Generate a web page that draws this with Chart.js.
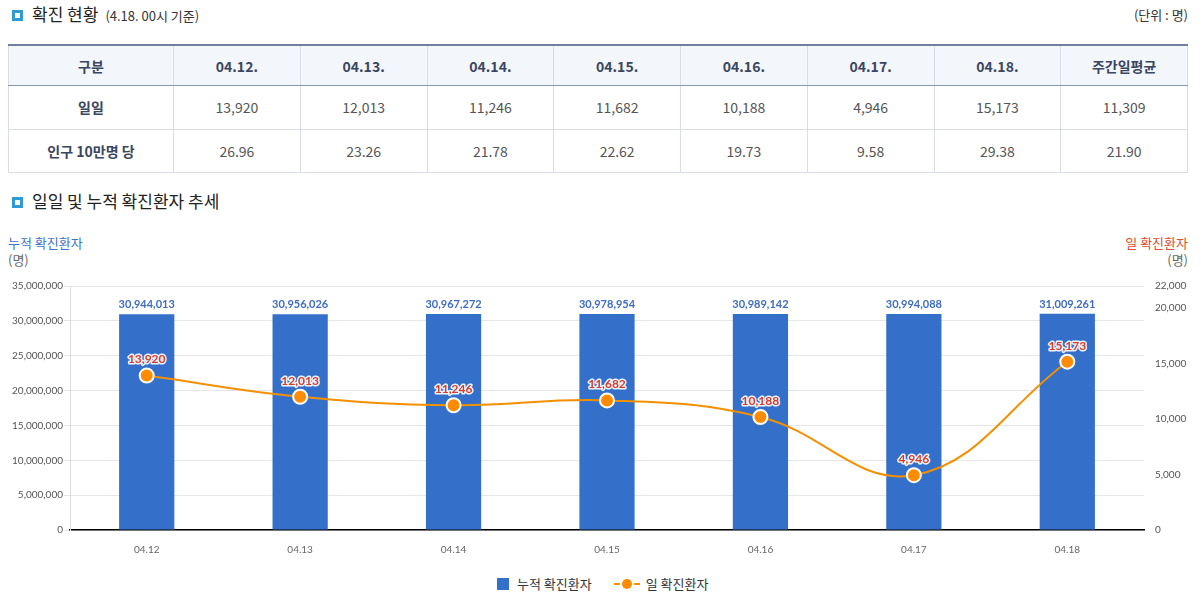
<!DOCTYPE html>
<html>
<head>
<meta charset="utf-8">
<title>확진 현황</title>
<script src="https://cdn.jsdelivr.net/npm/chart.js@4.4.0/dist/chart.umd.min.js"></script>
<style>
  body { margin: 0; width: 1201px; height: 599px; background: #fff; position: relative; overflow: hidden;
         font-family: "Noto Sans CJK KR", "Noto Sans", sans-serif; color: #333; }
  .abs { position: absolute; }
  .tit { font-size: 17px; color: #222; line-height: 20px; }
  .tit .ico { display: inline-block; width: 5px; height: 5px; border: 3px solid #2f9bd3; margin: 0 9px 2px 4px; vertical-align: middle; }
  .tit small { font-size: 13px; color: #333; margin-left: 7px; }
  table { border-collapse: collapse; width: 1180px; table-layout: fixed; font-size: 14px; }
  th, td { border: 1px solid #d9dde5; text-align: center; color: #555; padding: 0; }
  tr:first-child th { background: #f3f6fb; border-top: 2px solid #6f7f9c; border-bottom: 1px solid #8694ad; height: 39px; color: #3b4660; font-weight: bold; }
  td { height: 42.5px; }
  td.h { font-weight: bold; color: #3b4660; }
  #legend { font-size: 13px; color: #333; display: flex; align-items: center; }
  #legend span { display: inline-block; }
</style>
</head>
<body>
  <div class="abs tit" style="left:8px;top:4px"><span class="ico"></span>확진 현황<small>(4.18. 00시 기준)</small></div>
  <div class="abs" style="right:13px;top:5px;font-size:13px;">(단위 : 명)</div>
  <div class="abs" style="left:8px;top:44px">
    <table id="tbl"></table>
  </div>
  <div class="abs tit" style="left:8px;top:191px"><span class="ico"></span>일일 및 누적 확진환자 추세</div>
  <div class="abs" style="left:8px;top:234px;font-size:13px;line-height:17px;"><span style="color:#3d73c8">누적 확진환자</span><br><span style="color:#666">(명)</span></div>
  <div class="abs" style="right:13px;top:234px;font-size:13px;line-height:17px;text-align:right;"><span style="color:#dd4a2c">일 확진환자</span><br><span style="color:#666">(명)</span></div>

  <div class="abs" style="left:0;top:265px;width:1201px;height:300px;">
    <canvas id="myChart"></canvas>
  </div>
  <div class="abs" id="legend" style="left:497px;top:574px;">
    <span style="width:12px;height:12px;background:#3470c9;margin-right:8px;"></span>누적 확진환자
    <span style="margin-left:22px;margin-right:6px;position:relative;width:26px;height:12px;">
      <span style="position:absolute;left:0;top:5px;width:6px;height:2px;background:#f39000"></span>
      <span style="position:absolute;left:8px;top:1px;width:10px;height:10px;border-radius:50%;background:#ff8c00"></span>
      <span style="position:absolute;left:20px;top:5px;width:6px;height:2px;background:#f39000"></span>
    </span>일 확진환자
  </div>

<script>
  // table data
  var tableDates = ['04.12.', '04.13.', '04.14.', '04.15.', '04.16.', '04.17.', '04.18.'];
  var dailyCases = [13920, 12013, 11246, 11682, 10188, 4946, 15173];
  var dailyAvg = 11309;
  var per100k = ['26.96', '23.26', '21.78', '22.62', '19.73', '9.58', '29.38'];
  var per100kAvg = '21.90';

  // chart data
  var labels = ['04.12', '04.13', '04.14', '04.15', '04.16', '04.17', '04.18'];
  var cumulative = [30944013, 30956026, 30967272, 30978954, 30989142, 30994088, 31009261];
  var daily = [13920, 12013, 11246, 11682, 10188, 4946, 15173];
  var leftTicks = [0, 5000000, 10000000, 15000000, 20000000, 25000000, 30000000, 35000000];
  var rightTicks = [0, 5000, 10000, 15000, 20000, 22000];

  function fmt(n) { return Number(n).toLocaleString('en-US'); }

  var html = '<colgroup><col style="width:165px">';
  for (var i = 0; i < 8; i++) html += '<col>';
  html += '</colgroup><tr><th>구분</th>';
  tableDates.forEach(function (d) { html += '<th>' + d + '</th>'; });
  html += '<th>주간일평균</th></tr><tr><td class="h">일일</td>';
  dailyCases.forEach(function (v) { html += '<td>' + fmt(v) + '</td>'; });
  html += '<td>' + fmt(dailyAvg) + '</td></tr><tr><td class="h">인구 10만명 당</td>';
  per100k.forEach(function (v) { html += '<td>' + v + '</td>'; });
  html += '<td>' + per100kAvg + '</td></tr>';
  document.getElementById('tbl').innerHTML = html;

  var valueLabels = {
    id: 'valueLabels',
    afterDatasetsDraw: function (chart) {
      var ctx = chart.ctx;
      ctx.save();
      ctx.textAlign = 'center';
      ctx.textBaseline = 'bottom';
      chart.data.datasets.forEach(function (ds, di) {
        var meta = chart.getDatasetMeta(di);
        meta.data.forEach(function (el, i) {
          var txt = fmt(ds.data[i]);
          if (ds.type === 'bar') {
            ctx.font = 'bold 11px Lato, "Noto Sans", sans-serif';
            ctx.fillStyle = '#3d6cc0';
            ctx.fillText(txt, el.x, el.y - 4);
          } else {
            ctx.font = 'bold 12px Lato, "Noto Sans", sans-serif';
            ctx.lineWidth = 3;
            ctx.lineJoin = 'round';
            ctx.strokeStyle = 'rgba(255,255,255,0.9)';
            ctx.strokeText(txt, el.x, el.y - 10);
            ctx.fillStyle = '#d63c2c';
            ctx.fillText(txt, el.x, el.y - 10);
          }
        });
      });
      ctx.restore();
    }
  };

  new Chart(document.getElementById('myChart'), {
    data: {
      labels: labels,
      datasets: [
        {
          type: 'line',
          label: '일 확진환자',
          data: daily,
          yAxisID: 'y1',
          order: 1,
          borderColor: '#f39000',
          borderWidth: 2,
          backgroundColor: '#ff8c00',
          pointBackgroundColor: '#ff8c00',
          pointBorderColor: '#ffffff',
          pointBorderWidth: 2,
          pointRadius: 7,
          tension: 0.4
        },
        {
          type: 'bar',
          label: '누적 확진환자',
          data: cumulative,
          yAxisID: 'y',
          order: 2,
          backgroundColor: '#3470c9',
          barPercentage: 0.36,
          categoryPercentage: 1
        }
      ]
    },
    options: {
      responsive: true,
      maintainAspectRatio: false,
      animation: false,
      layout: { padding: { top: 21, left: 0, right: 0, bottom: 0 } },
      plugins: { legend: { display: false }, tooltip: { enabled: false } },
      scales: {
        x: {
          grid: { display: false },
          border: { color: '#000', width: 1.5 },
          ticks: { color: '#666', font: { family: 'Lato', size: 10 }, padding: 6 },
          afterFit: function (s) { s.height = 35; }
        },
        y: {
          position: 'left',
          min: 0, max: 35000000,
          afterBuildTicks: function (s) { s.ticks = leftTicks.map(function (v) { return { value: v }; }); },
          grid: { color: '#e6e6e6', tickLength: 6 },
          border: { color: '#dcdcdc' },
          ticks: { color: '#555', font: { family: 'Lato', size: 10 }, padding: 1, callback: function (v) { return fmt(v); } },
          afterFit: function (s) { s.width = 70; }
        },
        y1: {
          position: 'right',
          min: 0, max: 22000,
          afterBuildTicks: function (s) { s.ticks = rightTicks.map(function (v) { return { value: v }; }); },
          grid: { drawOnChartArea: false, drawTicks: false },
          border: { display: false },
          ticks: { color: '#555', font: { family: 'Lato', size: 10 }, padding: 11, callback: function (v) { return fmt(v); } },
          afterFit: function (s) { s.width = 57; }
        }
      }
    },
    plugins: [valueLabels]
  });
</script>
</body>
</html>
